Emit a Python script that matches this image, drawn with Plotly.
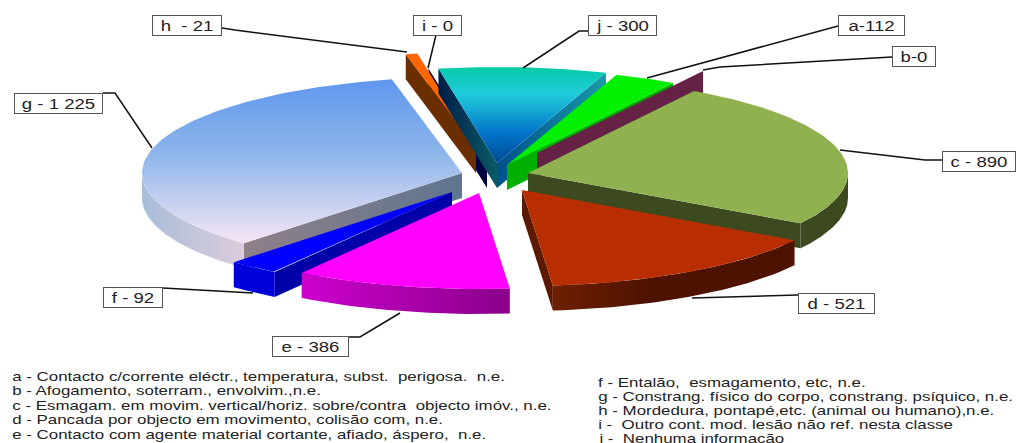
import numpy as np
import plotly.graph_objects as go

# ---- data ----
letters = ["a", "b", "c", "d", "e", "f", "g", "h", "i", "j"]
values = [112, 0, 890, 521, 386, 92, 1225, 21, 0, 300]
point_labels = ["a-112", "b-0", "c - 890", "d - 521", "e - 386", "f - 92",
                "g - 1 225", "h  - 21", "i - 0", "j - 300"]
legend_left = [
    "a - Contacto c/corrente eléctr., temperatura, subst.  perigosa.  n.e.",
    "b - Afogamento, soterram., envolvim.,n.e.",
    "c - Esmagam. em movim. vertical/horiz. sobre/contra  objecto imóv., n.e.",
    "d - Pancada por objecto em movimento, colisão com, n.e.",
    "e - Contacto com agente material cortante, afiado, áspero,  n.e.",
]
legend_right = [
    "f - Entalão,  esmagamento, etc, n.e.",
    "g - Constrang. físico do corpo, constrang. psíquico, n.e.",
    "h - Mordedura, pontapé,etc. (animal ou humano),n.e.",
    "i -  Outro cont. mod. lesão não ref. nesta classe",
    "j -  Nenhuma informação",
]

# ---- geometry of the pie (pixels) ----
START_DEG = 19.9
RX, RY, DEPTH = 320.0, 96.0, 25.0
apex = {"a": (507, 165), "b": (537, 153), "c": (528, 173), "d": (522, 190),
        "e": (479, 193), "f": (452, 192), "g": (462, 173), "h": (476, 148),
        "i": (487, 163), "j": (497, 163)}
draw_order = ["i", "h", "j", "a", "b", "c", "g", "f", "d", "e"]

top_fill = {
    "a": "#00F000", "c": "#8FB150", "d": "#B82E00", "e": "#FF00FF",
    "f": "#0000FF", "h": "#FF6600",
    "g": [[0, "#5F97EE"], [0.45, "#8DB5EA"], [1, "#F5E6F5"]],
    "j": [[0, "#05CBA8"], [0.28, "#20CCDC"], [0.7, "#0272C8"], [1, "#004A90"]],
}
wall_fill = {
    "a": ("#00B000", "#00B000", "#00B000"),
    "b": ("#662244", "#662244", "#662244"),
    "c": ("#3D4A20", "#3D4A20", "#3D4A20"),
    "d": ("#4E1200", "#5C1800", [[0, "#6E2000"], [0.4, "#4E1200"], [1, "#4E1200"]]),
    "e": ("#A000A0", "#A000A0", [[0, "#CC00CC"], [1, "#8A008A"]]),
    "f": ("#0000A8", "#0000A8", "#0000D8"),
    "g": ([[0, "#8F8088"], [1, "#5F7590"]], "#777777",
          [[0, "#A9BDD8"], [1, "#DCCCDC"]]),
    "h": ("#6B2E00", "#6B2E00", "#6B2E00"),
    "i": ("#000040", "#000040", "#000040"),
    "j": ([[0, "#001E48"], [1, "#0A5A66"]], [[0, "#00508C"], [1, "#1A9AA8"]], "#00508C"),
}

callouts = {
    "a": [(838, 26), (647, 78)],
    "b": [(892, 57), (720, 67), (703, 70)],
    "c": [(942, 160), (925, 160), (840, 150)],
    "d": [(798, 295), (692, 298)],
    "e": [(349, 337), (360, 337), (400, 313)],
    "f": [(163, 288), (253, 293)],
    "g": [(103, 93), (115, 93), (152, 148)],
    "h": [(222, 28), (235, 30), (407, 52)],
    "i": [(436, 35), (428, 68)],
    "j": [(588, 31), (579, 31), (523, 68)],
}
boxes = {
    "a": (871, 25, 67), "b": (914, 56, 44), "c": (979, 161, 74), "d": (836, 303, 77),
    "e": (310, 346, 77), "f": (133, 297, 60), "g": (58, 103, 89), "h": (187, 25, 70),
    "i": (437, 25, 49), "j": (622, 25, 69),
}

# ---- compute wedge angles from the values ----
total = sum(values)
angles = {}
cursor = START_DEG
for letter, v in zip(letters, values):
    span = 360.0 * v / total
    angles[letter] = (cursor, cursor + span)
    cursor += span


def rim(letter, deg):
    cx, cy = apex[letter]
    r = np.radians(deg)
    return cx + RX * np.sin(r), cy - RY * np.cos(r)


fig = go.Figure()


def poly(xs, ys, fill, orient="horizontal", start=None, stop=None):
    kw = dict(x=list(xs), y=list(ys), mode="lines", line=dict(width=0),
              fill="toself", hoverinfo="skip", showlegend=False)
    if isinstance(fill, str):
        kw["fillcolor"] = fill
    else:
        grad = dict(type=orient, colorscale=fill)
        if start is not None:
            grad["start"] = start
            grad["stop"] = stop
        kw["fillgradient"] = grad
    fig.add_trace(go.Scatter(**kw))


def radial_wall(letter, deg, fill):
    cx, cy = apex[letter]
    x, y = rim(letter, deg)
    poly([cx, x, x, cx, cx], [cy, y, y + DEPTH, cy + DEPTH, cy], fill,
         start=min(cx, x), stop=max(cx, x))


for letter in draw_order:
    a0, a1 = angles[letter]
    w0, w1, warc = wall_fill[letter]
    # radial side walls that face the viewer
    if np.sin(np.radians(a0)) < 0:
        radial_wall(letter, a0, w0)
    if np.sin(np.radians(a1)) > 0 and a1 > a0 or letter == "b":
        radial_wall(letter, a1, w1)
    # outer rim wall (front half only)
    lo, hi = max(a0, 90), min(a1, 270)
    if hi > lo:
        t = np.linspace(lo, hi, 60)
        xs, ys = rim(letter, t)
        poly(np.r_[xs, xs[::-1], xs[0]], np.r_[ys + DEPTH, ys[::-1], ys[0] + DEPTH],
             warc, start=float(xs.min()), stop=float(xs.max()))
    # top face
    if a1 > a0:
        t = np.linspace(a0, a1, 80)
        xs, ys = rim(letter, t)
        cx, cy = apex[letter]
        ty = np.r_[cy, ys, cy]
        poly(np.r_[cx, xs, cx], ty, top_fill[letter], orient="vertical",
             start=float(ty.min()), stop=float(ty.max()))

# leader lines
for letter, pts in callouts.items():
    fig.add_trace(go.Scatter(x=[p[0] for p in pts], y=[p[1] for p in pts], mode="lines",
                             line=dict(color="#111111", width=1.5),
                             hoverinfo="skip", showlegend=False))

annotations = []
for letter, label in zip(letters, point_labels):
    x, y, w = boxes[letter]
    annotations.append(dict(x=x, y=y, xref="x", yref="y", text=label, showarrow=False,
                            width=w - 2, height=19, align="center", bgcolor="white",
                            bordercolor="#555555", borderwidth=1, borderpad=0,
                            font=dict(family="Liberation Sans", size=15, color="#222222")))

for i, text in enumerate(legend_left):
    annotations.append(dict(x=10, y=376 + i * 14.6, xref="x", yref="y", text=text,
                            showarrow=False, xanchor="left", yanchor="middle",
                            font=dict(family="Liberation Sans", size=13, color="#222222")))
for i, text in enumerate(legend_right):
    annotations.append(dict(x=596, y=382 + i * 14.2, xref="x", yref="y", text=text,
                            showarrow=False, xanchor="left", yanchor="middle",
                            font=dict(family="Liberation Sans", size=13, color="#222222")))

fig.update_layout(
    width=1018, height=443, autosize=False,
    margin=dict(l=0, r=0, t=0, b=0),
    paper_bgcolor="white", plot_bgcolor="white",
    xaxis=dict(range=[0, 1018], visible=False, fixedrange=True),
    yaxis=dict(range=[443, 0], visible=False, fixedrange=True),
    annotations=annotations,
    showlegend=False,
)

# the reference's text is stretched sideways: widen glyphs without changing their height
STRETCH_JS = """
document.body.style.margin='0';document.body.style.overflow='hidden';
document.querySelectorAll('.annotation-text').forEach(function(t){
  var fs=parseFloat(t.style.fontSize), b=t.getBBox();
  var k=fs<14?1.30:1.24, x0=fs<14?b.x:b.x+b.width/2;
  t.setAttribute('transform','translate('+x0+',0) scale('+k+',1) translate('+(-x0)+',0)');
});
"""
fig.write_html("out.html", config=dict(displayModeBar=False), post_script=STRETCH_JS)
